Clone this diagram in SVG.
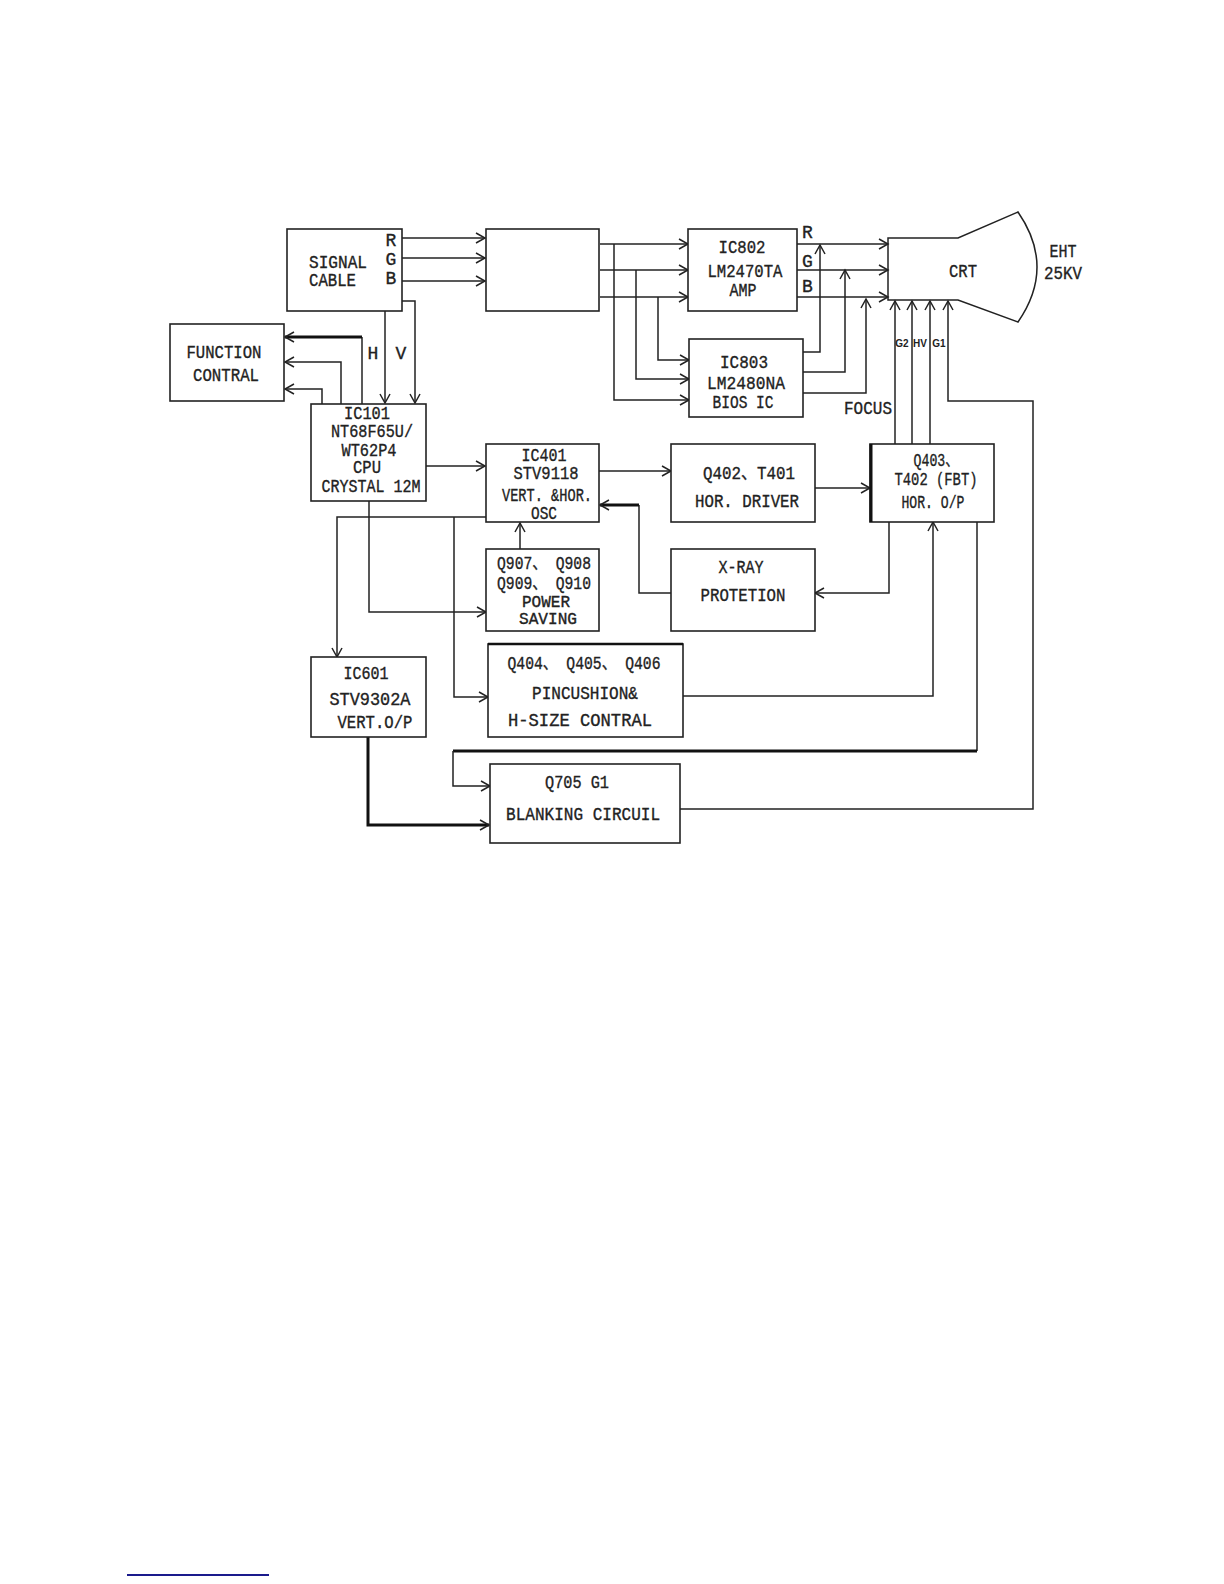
<svg xmlns="http://www.w3.org/2000/svg" width="1224" height="1584" viewBox="0 0 1224 1584">
<defs>
<marker id="ah" markerUnits="userSpaceOnUse" markerWidth="14" markerHeight="14" refX="10" refY="6" orient="auto">
<path d="M1,1 L10,6 L1,11" fill="none" stroke="#222" stroke-width="1.5"/>
</marker>
<style>
.box{fill:#fff;stroke:#222;stroke-width:1.6}
.ln{fill:none;stroke:#222;stroke-width:1.5}
.thk{fill:none;stroke:#111;stroke-width:3}
text{font-family:"Liberation Mono","Noto Sans CJK SC",monospace;font-size:18px;fill:#222;stroke:#222;stroke-width:0.35;text-anchor:middle}
.sm{font-family:"Liberation Sans",sans-serif;font-size:10px;font-weight:bold;stroke:none}
.tight{font-size:16px}
.l{text-anchor:start}
</style>
</defs>
<rect width="1224" height="1584" fill="#fff"/>

<g id="connectors">
<path class="ln" d="M402,238 H485" marker-end="url(#ah)"/>
<path class="ln" d="M402,258 H485" marker-end="url(#ah)"/>
<path class="ln" d="M402,281 H485" marker-end="url(#ah)"/>
<path class="ln" d="M385,311 V403" marker-end="url(#ah)"/>
<path class="ln" d="M402,301 H415 V403" marker-end="url(#ah)"/>
<path class="ln" d="M362,404 V337"/>
<path class="thk" d="M362,337 H285" marker-end="url(#ah)"/>
<path class="ln" d="M341,404 V362 H285" marker-end="url(#ah)"/>
<path class="ln" d="M322,404 V389 H285" marker-end="url(#ah)"/>
<path class="ln" d="M426,466 H485" marker-end="url(#ah)"/>
<path class="ln" d="M600,244 H688" marker-end="url(#ah)"/>
<path class="ln" d="M600,270 H688" marker-end="url(#ah)"/>
<path class="ln" d="M600,297 H688" marker-end="url(#ah)"/>
<path class="ln" d="M614,244 V400 H689" marker-end="url(#ah)"/>
<path class="ln" d="M636,270 V379 H689" marker-end="url(#ah)"/>
<path class="ln" d="M658,297 V360 H689" marker-end="url(#ah)"/>
<path class="ln" d="M797,244 H888" marker-end="url(#ah)"/>
<path class="ln" d="M797,270 H888" marker-end="url(#ah)"/>
<path class="ln" d="M797,297 H888" marker-end="url(#ah)"/>
<path class="ln" d="M803,352 H820 V245" marker-end="url(#ah)"/>
<path class="ln" d="M803,372 H845 V270" marker-end="url(#ah)"/>
<path class="ln" d="M803,393 H866 V299" marker-end="url(#ah)"/>
<path class="ln" d="M895,444 V301" marker-end="url(#ah)"/>
<path class="ln" d="M912,444 V301" marker-end="url(#ah)"/>
<path class="ln" d="M930,444 V301" marker-end="url(#ah)"/>
<path class="ln" d="M680,809 H1033 V401 H948 V301" marker-end="url(#ah)"/>
<path class="ln" d="M599,471 H671" marker-end="url(#ah)"/>
<path class="ln" d="M815,488 H870" marker-end="url(#ah)"/>
<path class="ln" d="M889,522 V593 H815" marker-end="url(#ah)"/>
<path class="ln" d="M671,593 H639 V505"/>
<path class="thk" d="M639,505 H600" marker-end="url(#ah)"/>
<path class="ln" d="M683,696 H933 V522" marker-end="url(#ah)"/>
<path class="ln" d="M977,522 V751"/>
<path class="thk" d="M977,751 H453"/>
<path class="ln" d="M453,751 V786 H490" marker-end="url(#ah)"/>
<path class="ln" d="M369,501 V612 H486" marker-end="url(#ah)"/>
<path class="ln" d="M520,549 V523" marker-end="url(#ah)"/>
<path class="ln" d="M486,517 H337 V657" marker-end="url(#ah)"/>
<path class="ln" d="M454,517 V697 H488" marker-end="url(#ah)"/>
<path class="thk" d="M368,737 V825 H489" marker-end="url(#ah)"/>
</g>

<g id="signal-cable">
<rect class="box" x="287" y="229" width="115" height="82"/>
<text class="l" x="309" y="268" textLength="58" lengthAdjust="spacingAndGlyphs">SIGNAL</text>
<text class="l" x="309" y="286" textLength="47" lengthAdjust="spacingAndGlyphs">CABLE</text>
<text x="391" y="246">R</text>
<text x="391" y="265">G</text>
<text x="391" y="284">B</text>
</g>
<g id="hv-labels">
<text x="373" y="359">H</text>
<text x="401" y="359">V</text>
</g>
<g id="blank-box">
<rect class="box" x="486" y="229" width="113" height="82"/>
</g>
<g id="function-contral">
<rect class="box" x="170" y="324" width="114" height="77"/>
<text x="224" y="358" textLength="75" lengthAdjust="spacingAndGlyphs">FUNCTION</text>
<text x="226" y="381" textLength="66" lengthAdjust="spacingAndGlyphs">CONTRAL</text>
</g>
<g id="ic101">
<rect class="box" x="311" y="404" width="115" height="97"/>
<text x="367" y="419" textLength="46" lengthAdjust="spacingAndGlyphs">IC101</text>
<text x="372" y="437" textLength="82" lengthAdjust="spacingAndGlyphs">NT68F65U/</text>
<text x="369" y="456" textLength="55" lengthAdjust="spacingAndGlyphs">WT62P4</text>
<text x="367" y="473" textLength="28" lengthAdjust="spacingAndGlyphs">CPU</text>
<text x="371" y="492" textLength="99" lengthAdjust="spacingAndGlyphs">CRYSTAL 12M</text>
</g>
<g id="ic802">
<rect class="box" x="688" y="229" width="109" height="82"/>
<text x="742" y="253" textLength="47" lengthAdjust="spacingAndGlyphs">IC802</text>
<text x="745" y="277" textLength="75" lengthAdjust="spacingAndGlyphs">LM2470TA</text>
<text x="743" y="296" textLength="27" lengthAdjust="spacingAndGlyphs">AMP</text>
<text class="l" x="802" y="238">R</text>
<text class="l" x="802" y="267">G</text>
<text class="l" x="802" y="292">B</text>
</g>
<g id="ic803">
<rect class="box" x="689" y="339" width="114" height="78"/>
<text x="744" y="368" textLength="48" lengthAdjust="spacingAndGlyphs">IC803</text>
<text x="746" y="389" textLength="78" lengthAdjust="spacingAndGlyphs">LM2480NA</text>
<text x="743" y="408" textLength="61" lengthAdjust="spacingAndGlyphs">BIOS IC</text>
</g>
<g id="focus">
<text x="868" y="414" textLength="48" lengthAdjust="spacingAndGlyphs">FOCUS</text>
</g>
<g id="crt">
<path class="ln" d="M888,238 H958 L1018,212 Q1056,267 1018,322 L958,300 H888 Z" fill="#fff"/>
<text x="963" y="277" textLength="28" lengthAdjust="spacingAndGlyphs">CRT</text>
<text x="1063" y="257" textLength="27" lengthAdjust="spacingAndGlyphs">EHT</text>
<text x="1063" y="279" textLength="38" lengthAdjust="spacingAndGlyphs">25KV</text>
<text class="sm" x="902" y="347">G2</text>
<text class="sm" x="920" y="347">HV</text>
<text class="sm" x="939" y="347">G1</text>
</g>
<g id="ic401">
<rect class="box" x="486" y="444" width="113" height="78"/>
<text x="544" y="461" textLength="45" lengthAdjust="spacingAndGlyphs">IC401</text>
<text x="546" y="479" textLength="65" lengthAdjust="spacingAndGlyphs">STV9118</text>
<text x="547" y="501" textLength="90" lengthAdjust="spacingAndGlyphs">VERT. &amp;HOR.</text>
<text x="544" y="519" textLength="26" lengthAdjust="spacingAndGlyphs">OSC</text>
</g>
<g id="q402">
<rect class="box" x="671" y="444" width="144" height="78"/>
<text x="749" y="479" textLength="92" lengthAdjust="spacingAndGlyphs">Q402、T401</text>
<text x="747" y="507" textLength="104" lengthAdjust="spacingAndGlyphs">HOR.  DRIVER</text>
</g>
<g id="q403">
<rect class="box" x="870" y="444" width="124" height="78"/>
<path d="M871,444 V522" stroke="#111" stroke-width="3"/>
<text x="936" y="466" textLength="45" lengthAdjust="spacingAndGlyphs">Q403、</text>
<text x="936" y="485" textLength="83" lengthAdjust="spacingAndGlyphs">T402 (FBT)</text>
<text x="933" y="508" textLength="63" lengthAdjust="spacingAndGlyphs">HOR. O/P</text>
</g>
<g id="power-saving">
<rect class="box" x="486" y="549" width="113" height="82"/>
<text x="544" y="569" textLength="94" lengthAdjust="spacingAndGlyphs">Q907、 Q908</text>
<text x="544" y="589" textLength="94" lengthAdjust="spacingAndGlyphs">Q909、 Q910</text>
<text class="tight" x="546" y="607" textLength="48" lengthAdjust="spacingAndGlyphs">POWER</text>
<text class="tight" x="548" y="624" textLength="58" lengthAdjust="spacingAndGlyphs">SAVING</text>
</g>
<g id="x-ray">
<rect class="box" x="671" y="549" width="144" height="82"/>
<text x="741" y="573" textLength="45" lengthAdjust="spacingAndGlyphs">X-RAY</text>
<text x="743" y="601" textLength="85" lengthAdjust="spacingAndGlyphs">PROTETION</text>
</g>
<g id="ic601">
<rect class="box" x="311" y="657" width="115" height="80"/>
<text x="366" y="679" textLength="45" lengthAdjust="spacingAndGlyphs">IC601</text>
<text x="370" y="705" textLength="81" lengthAdjust="spacingAndGlyphs">STV9302A</text>
<text x="375" y="728" textLength="75" lengthAdjust="spacingAndGlyphs">VERT.O/P</text>
</g>
<g id="pincushion">
<rect class="box" x="488" y="644" width="195" height="93"/>
<path d="M488,644 H683" stroke="#111" stroke-width="2.5"/>
<text x="584" y="669" textLength="153" lengthAdjust="spacingAndGlyphs">Q404、 Q405、 Q406</text>
<text x="585" y="699" textLength="106" lengthAdjust="spacingAndGlyphs">PINCUSHION&amp;</text>
<text x="580" y="726" textLength="144" lengthAdjust="spacingAndGlyphs">H-SIZE CONTRAL</text>
</g>
<g id="blanking">
<rect class="box" x="490" y="764" width="190" height="79"/>
<text x="577" y="788" textLength="64" lengthAdjust="spacingAndGlyphs">Q705 G1</text>
<text x="583" y="820" textLength="154" lengthAdjust="spacingAndGlyphs">BLANKING CIRCUIL</text>
</g>
<path d="M127,1575 H269" stroke="#1a1a8c" stroke-width="2"/>
</svg>
